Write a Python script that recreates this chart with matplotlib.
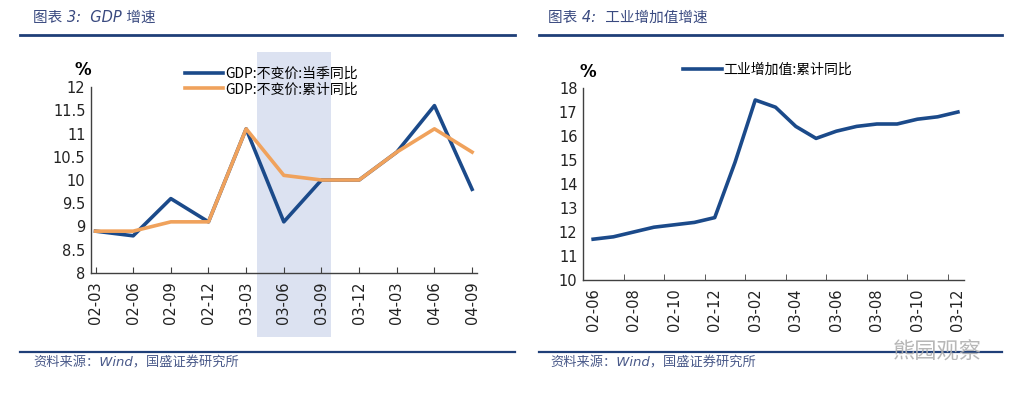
import matplotlib
matplotlib.use("Agg")
import matplotlib.pyplot as plt
from matplotlib.transforms import blended_transform_factory
from matplotlib.patches import Rectangle
from matplotlib.lines import Line2D

plt.rcParams['font.family'] = ['DejaVu Sans', 'Noto Sans CJK SC']

# GDP chart data
gdp_quarters = ['02-03', '02-06', '02-09', '02-12', '03-03', '03-06',
                '03-09', '03-12', '04-03', '04-06', '04-09']
gdp_quarterly = [8.9, 8.8, 9.6, 9.1, 11.1, 9.1, 10.0, 10.0, 10.6, 11.6, 9.8]
gdp_cumulative = [8.9, 8.9, 9.1, 9.1, 11.1, 10.1, 10.0, 10.0, 10.6, 11.1, 10.6]

# industrial value added data
ind_months = ['02-06', '02-07', '02-08', '02-09', '02-10', '02-11', '02-12',
              '03-01', '03-02', '03-03', '03-04', '03-05', '03-06', '03-07',
              '03-08', '03-09', '03-10', '03-11', '03-12']
ind_cumulative = [11.7, 11.8, 12.0, 12.2, 12.3, 12.4, 12.6, 14.9, 17.5, 17.2,
                  16.4, 15.9, 16.2, 16.4, 16.5, 16.5, 16.7, 16.8, 17.0]

NAVY = '#1b4a8a'
ORANGE = '#f0a25c'
TITLE_C = '#3a4a80'
RULE_C = '#1f3f78'

W, H = 1024, 399
fig = plt.figure(figsize=(W / 100, H / 100), dpi=100)


def px(x0, y0, x1, y1):
    # pixel box -> figure fraction rect
    return [x0 / W, 1 - y1 / H, (x1 - x0) / W, (y1 - y0) / H]


def style_axes(ax):
    for s in ['top', 'right']:
        ax.spines[s].set_visible(False)
    for s in ['left', 'bottom']:
        ax.spines[s].set_color('#404040')
        ax.spines[s].set_linewidth(1.0)
    ax.tick_params(axis='y', length=0, labelsize=10.5, pad=4, colors='#222222')
    ax.tick_params(axis='x', direction='in', length=4, labelsize=10.5, pad=6,
                   labelrotation=90, colors='#404040', labelcolor='#222222')


# ---------------- left: GDP ----------------
ax1 = fig.add_axes(px(91, 87, 477, 273))
x1 = list(range(len(gdp_quarters)))
ax1.plot(x1, gdp_quarterly, color=NAVY, lw=2.6, label='GDP:不变价:当季同比', zorder=3)
ax1.plot(x1, gdp_cumulative, color=ORANGE, lw=2.6, label='GDP:不变价:累计同比', zorder=4)
ax1.set_xlim(-0.12, 10.13)
ax1.set_ylim(8, 12)
ax1.set_yticks([8 + 0.5 * i for i in range(9)])
ax1.set_yticklabels(['8', '8.5', '9', '9.5', '10', '10.5', '11', '11.5', '12'])
ax1.set_xticks(x1)
ax1.set_xticklabels(gdp_quarters)
style_axes(ax1)

tr = blended_transform_factory(ax1.transData, fig.transFigure)
ax1.add_patch(Rectangle((4.3, 1 - 337 / H), 1.96, (337 - 52) / H, transform=tr,
                        facecolor='#dce2f1', edgecolor='none', clip_on=False, zorder=0))
ax1.legend(loc='center left', bbox_to_anchor=(0.21, 1.03), frameon=False,
           handlelength=2.8, handletextpad=0.1, labelspacing=0.12,
           prop={'family': ['Noto Sans CJK SC'], 'size': 10})
fig.text(83 / W, 1 - 70 / H, '%', fontsize=12, fontweight='bold', ha='center', va='center')

# ---------------- right: industrial ----------------
ax2 = fig.add_axes(px(583, 88, 964, 280))
x2 = list(range(len(ind_months)))
ax2.plot(x2, ind_cumulative, color=NAVY, lw=2.6, label='工业增加值:累计同比')
ax2.set_xlim(-0.5, 18.3)
ax2.set_ylim(10, 18)
ax2.set_yticks(range(10, 19))
ax2.set_xticks(x2[::2])
ax2.set_xticklabels(ind_months[::2])
ax2.set_xticks([i + 1.5 for i in range(0, 18, 2)], minor=True)
style_axes(ax2)
ax2.tick_params(axis='x', which='major', length=0)
ax2.tick_params(axis='x', which='minor', direction='in', length=4, colors='#404040')
ax2.legend(loc='center left', bbox_to_anchor=(0.23, 1.095), frameon=False,
           handlelength=2.8, handletextpad=0.1,
           prop={'family': ['Noto Sans CJK SC'], 'size': 10})
fig.text(588 / W, 1 - 72 / H, '%', fontsize=12, fontweight='bold', ha='center', va='center')

# ---------------- headers and footers ----------------
fig.text(33 / W, 1 - 17 / H, '图表 3:  GDP 增速', fontsize=10.5, style='italic',
         color=TITLE_C, va='center')
fig.text(548 / W, 1 - 17 / H, '图表 4:  工业增加值增速', fontsize=10.5, style='italic',
         color=TITLE_C, va='center')
for xa, xb in [(20, 515), (539, 1002)]:
    fig.add_artist(Line2D([xa / W, xb / W], [1 - 35 / H] * 2, color=RULE_C, lw=2.0))
    fig.add_artist(Line2D([xa / W, xb / W], [1 - 352 / H] * 2, color=RULE_C, lw=1.6))
src = '资料来源：Wind，国盛证券研究所'
fig.text(33 / W, 1 - 363 / H, src, fontsize=9.5, style='italic', color='#4a5a8a', va='center')
fig.text(550 / W, 1 - 363 / H, src, fontsize=9.5, style='italic', color='#4a5a8a', va='center')

# watermark
fig.text(893 / W, 1 - 352 / H, '熊园观察', fontsize=16, color='#b0b0b0', va='center',
         family=['Noto Sans CJK SC'], alpha=0.9)

fig.savefig('out.png', dpi=100, facecolor='white')
